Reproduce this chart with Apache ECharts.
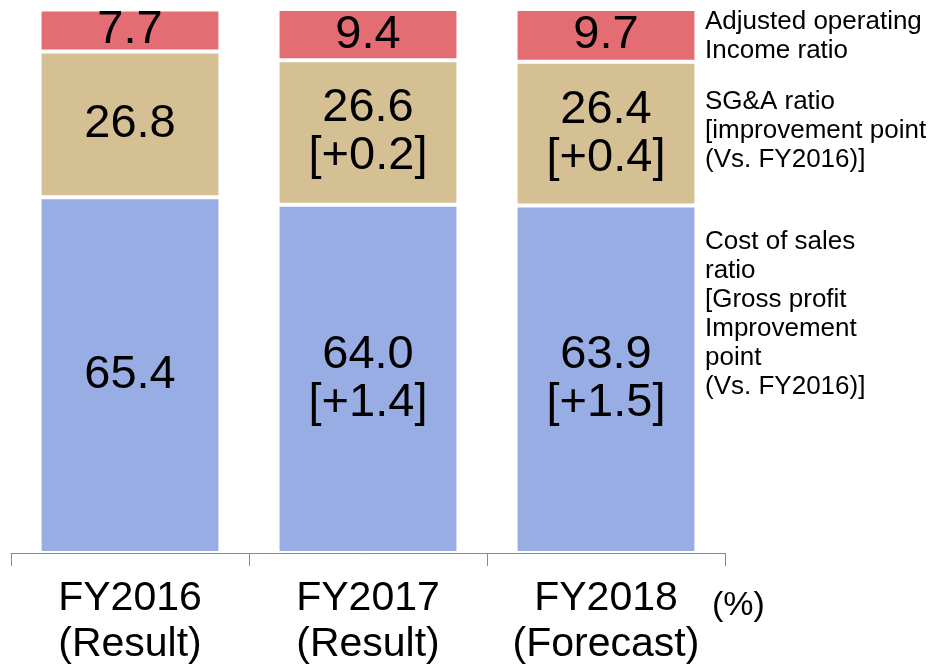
<!DOCTYPE html>
<html>
<head>
	<title>Cost ratio breakdown</title>
	<meta charset="utf-8">
	<script src="https://cdn.jsdelivr.net/npm/echarts@6/dist/echarts.min.js"></script>
	<style>
		body { margin: 0; background: #fff; }
		#main { width: 931px; height: 668px; }
	</style>
</head>
<body>
<div id="main"></div>
<script>
	// Data
	var categories = ['FY2016\n(Result)', 'FY2017\n(Result)', 'FY2018\n(Forecast)'];
	var costRatio = [65.4, 64.0, 63.9];
	var costImprove = ['', '+1.4', '+1.5'];
	var sgaRatio = [26.8, 26.6, 26.4];
	var sgaImprove = ['', '+0.2', '+0.4'];
	var opRatio = [7.7, 9.4, 9.7];

	var legendTexts = [
		'Adjusted operating\nIncome ratio',
		'SG&A ratio\n[improvement point\n(Vs. FY2016)]',
		'Cost of sales\nratio\n[Gross profit\nImprovement\npoint\n(Vs. FY2016)]'
	];

	var font = '"Liberation Sans", Arial, sans-serif';

	function makeLabel(improve) {
		return {
			show: true,
			position: 'inside',
			color: '#000',
			fontFamily: font,
			fontSize: 47,
			lineHeight: 48,
			formatter: function (p) {
				var s = p.value.toFixed(1);
				if (improve && improve[p.dataIndex]) {
					s += '\n[' + improve[p.dataIndex] + ']';
				}
				return s;
			}
		};
	}

	function makeSeries(name, data, color, improve) {
		return {
			name: name,
			type: 'bar',
			stack: 'total',
			barCategoryGap: '24%',
			data: data,
			itemStyle: { color: color, borderColor: '#fff', borderWidth: 2 },
			label: makeLabel(improve),
			silent: true
		};
	}

	var myChart = echarts.init(document.getElementById('main'));

	var option = {
		animation: false,
		grid: { left: 11, right: 206, top: 9, bottom: 112 },
		xAxis: {
			type: 'category',
			data: categories,
			axisLine: { show: true, lineStyle: { color: '#898989', width: 1 } },
			axisTick: { show: true, alignWithLabel: false, interval: 0, length: 13, lineStyle: { color: '#898989', width: 1 } },
			axisLabel: {
				interval: 0,
				color: '#000',
				fontFamily: font,
				fontSize: 41,
				lineHeight: 46,
				margin: 23
			}
		},
		yAxis: {
			type: 'value',
			min: 0,
			max: 100,
			show: false
		},
		graphic: [
			{ type: 'text', left: 705, top: 7, style: { text: legendTexts[0], font: '26px ' + font, lineHeight: 29, fill: '#000' } },
			{ type: 'text', left: 705, top: 87, style: { text: legendTexts[1], font: '26px ' + font, lineHeight: 29, fill: '#000' } },
			{ type: 'text', left: 705, top: 227, style: { text: legendTexts[2], font: '26px ' + font, lineHeight: 29, fill: '#000' } },
			{ type: 'text', left: 712, top: 589, style: { text: '(%)', font: '34px ' + font, fill: '#000' } }
		],
		series: [
			makeSeries('Cost of sales ratio', costRatio, '#97ADE3', costImprove),
			makeSeries('SG&A ratio', sgaRatio, '#D5C093', sgaImprove),
			makeSeries('Adjusted operating income ratio', opRatio, '#E46C73', null)
		]
	};

	myChart.setOption(option);
</script>
</body>
</html>
